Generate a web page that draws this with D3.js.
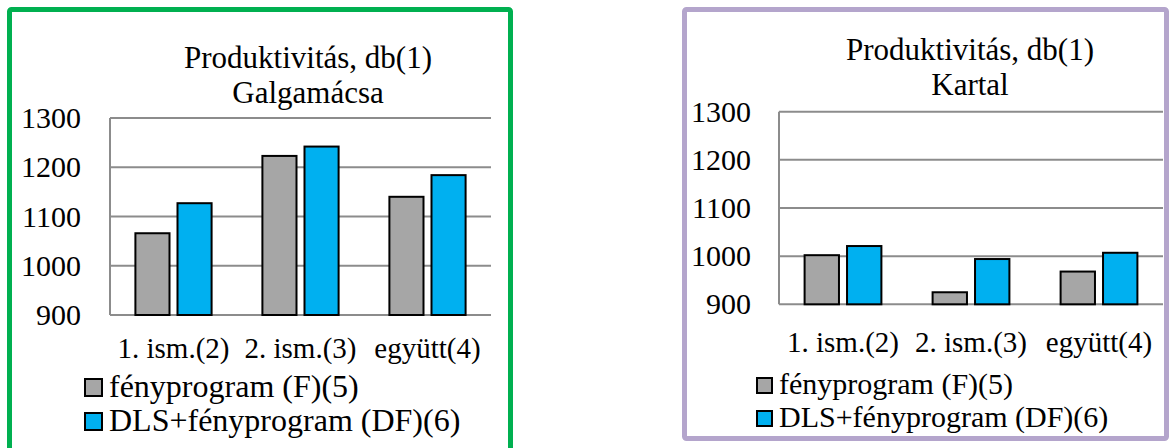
<!DOCTYPE html>
<html>
<head>
<meta charset="utf-8">
<script src="https://cdn.jsdelivr.net/npm/d3@7"></script>
<style>
  body { margin: 0; background: #fff; }
  text { font-family: "Liberation Serif", "Times New Roman", serif; fill: #000; }
</style>
</head>
<body>
<div id="chart"></div>
<script>
    // data
    var categories = ["1. ism.(2)", "2. ism.(3)", "együtt(4)"],
        seriesNames = ["fényprogram (F)(5)", "DLS+fényprogram (DF)(6)"],
        seriesColors = ["#a6a6a6", "#00b0f0"],
        yTicks = [900, 1000, 1100, 1200, 1300],

        galgamacsaF  = [1066, 1223, 1140],
        galgamacsaDF = [1127, 1242, 1184],

        kartalF  = [1002, 925, 968],
        kartalDF = [1021, 994, 1007];

    var w = 1173,
        h = 448;

    var svg = d3.select("#chart")
        .append("svg")
        .attr("width", w)
        .attr("height", h);

    // one excel style clustered bar chart
    function drawChart(opt) {
        var g = svg.append("g");

        var x0 = d3.scaleBand()
            .domain(categories)
            .range([opt.left, opt.right]);

        var x1 = d3.scaleBand()
            .domain(seriesNames)
            .range([x0.bandwidth() * 0.2, x0.bandwidth() * 0.8])
            .paddingInner(0.19);

        var y = d3.scaleLinear()
            .domain([900, 1300])
            .range([opt.bottom, opt.top]);

        // gridlines
        g.selectAll("line.grid")
            .data(yTicks)
            .enter().append("line")
            .attr("class", "grid")
            .attr("x1", opt.left)
            .attr("x2", opt.right)
            .attr("y1", function(d) { return y(d); })
            .attr("y2", function(d) { return y(d); })
            .attr("stroke", "#8c8c8c")
            .attr("stroke-width", 2);

        // value axis line
        g.append("line")
            .attr("x1", opt.left).attr("x2", opt.left)
            .attr("y1", y(1300)).attr("y2", y(900))
            .attr("stroke", "#8c8c8c")
            .attr("stroke-width", 2);

        // tick labels, done with d3 axis but stripped down
        var yAxis = d3.axisLeft(y)
            .tickValues(yTicks)
            .tickSize(0)
            .tickPadding(0)
            .tickFormat(d3.format("d"));

        var ax = g.append("g")
            .attr("transform", "translate(" + opt.tickX + ",0)")
            .call(yAxis);
        ax.select(".domain").remove();
        ax.selectAll("text")
            .attr("font-size", 30)
            .attr("font-family", "Liberation Serif")
            .attr("fill", "#000");

        var rows = categories.map(function(c, i) {
            return { cat: c, vals: [opt.valsF[i], opt.valsDF[i]] };
        });

        var groups = g.selectAll("g.cat")
            .data(rows)
            .enter().append("g")
            .attr("class", "cat")
            .attr("transform", function(d) { return "translate(" + x0(d.cat) + ",0)"; });

        groups.selectAll("rect")
            .data(function(d) {
                return d.vals.map(function(v, j) { return { name: seriesNames[j], v: v, j: j }; });
            })
            .enter().append("rect")
            .attr("x", function(d) { return x1(d.name); })
            .attr("width", x1.bandwidth())
            .attr("y", function(d) { return y(d.v); })
            .attr("height", function(d) { return y(900) - y(d.v); })
            .attr("fill", function(d) { return seriesColors[d.j]; })
            .attr("stroke", "#000")
            .attr("stroke-width", 2);

        // category labels
        g.selectAll("text.cat")
            .data(categories)
            .enter().append("text")
            .attr("class", "cat")
            .attr("x", function(d) { return x0(d) + x0.bandwidth() / 2; })
            .attr("y", opt.catY)
            .attr("text-anchor", "middle")
            .attr("font-size", 29)
            .text(function(d) { return d; });

        // title, two lines
        g.selectAll("text.title")
            .data(opt.title)
            .enter().append("text")
            .attr("class", "title")
            .attr("x", opt.titleX)
            .attr("y", function(d, i) { return opt.titleY + i * 35; })
            .attr("text-anchor", "middle")
            .attr("font-size", 31)
            .text(function(d) { return d; });

        // legend
        var leg = g.selectAll("g.leg")
            .data(seriesNames)
            .enter().append("g")
            .attr("class", "leg")
            .attr("transform", function(d, i) {
                return "translate(" + opt.legX + "," + (opt.legY + i * opt.legStep) + ")";
            });

        leg.append("rect")
            .attr("x", 0)
            .attr("y", -opt.sq - 1)
            .attr("width", opt.sq)
            .attr("height", opt.sq)
            .attr("fill", function(d, i) { return seriesColors[i]; })
            .attr("stroke", "#000")
            .attr("stroke-width", 2);

        leg.append("text")
            .attr("x", opt.sq + 7)
            .attr("y", 0)
            .attr("font-size", opt.legFont)
            .text(function(d) { return d; });
    }

    // frames around the two charts
    svg.append("rect")
        .attr("x", 9.5).attr("y", 9.5)
        .attr("width", 501).attr("height", 460)
        .attr("rx", 2)
        .attr("fill", "none")
        .attr("stroke", "#00b050")
        .attr("stroke-width", 5);

    svg.append("rect")
        .attr("x", 684.5).attr("y", 9.5)
        .attr("width", 482).attr("height", 429)
        .attr("rx", 2)
        .attr("fill", "none")
        .attr("stroke", "#b4a5cc")
        .attr("stroke-width", 5);

    drawChart({
        left: 110, right: 491, top: 118, bottom: 315,
        tickX: 81, catY: 358,
        title: ["Produktivitás, db(1)", "Galgamácsa"], titleX: 308, titleY: 68,
        legX: 85, legY: 397, legStep: 34, sq: 17, legFont: 32,
        valsF: galgamacsaF, valsDF: galgamacsaDF
    });

    drawChart({
        left: 779, right: 1163, top: 111.7, bottom: 304.3,
        tickX: 751, catY: 352,
        title: ["Produktivitás, db(1)", "Kartal"], titleX: 970, titleY: 60,
        legX: 757, legY: 394, legStep: 33, sq: 15, legFont: 30,
        valsF: kartalF, valsDF: kartalDF
    });
</script>
</body>
</html>
